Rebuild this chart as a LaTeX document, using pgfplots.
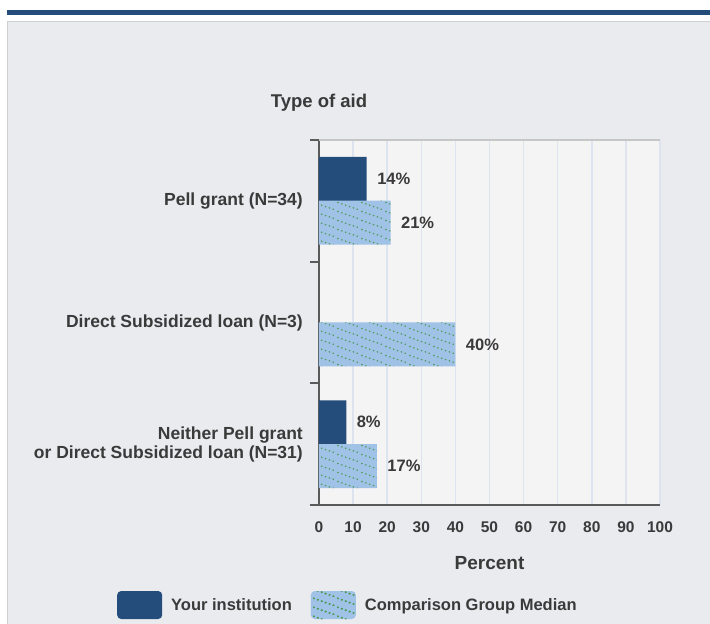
\documentclass[border=0pt]{standalone}
\usepackage{pgfplots}
\pgfplotsset{compat=1.18}
\usepackage{fontspec}
\setmainfont{Liberation Sans}
\usetikzlibrary{patterns}
\definecolor{topblue}{HTML}{244D7B}
\definecolor{darkblue}{HTML}{244D7B}
\definecolor{compfill}{HTML}{A0C2E6}
\definecolor{dotgreen}{HTML}{4E9A58}
\definecolor{panel}{HTML}{EAEBEF}
\definecolor{panelborder}{HTML}{CFD0D4}
\definecolor{plotbg}{HTML}{F4F4F4}
\definecolor{gridc}{HTML}{DDE4EF}
\definecolor{axisgray}{HTML}{5A5A5A}
\definecolor{txt}{HTML}{3A3A3A}
\pgfdeclarepatternformonly{dotdiag}{\pgfqpoint{0pt}{0pt}}{\pgfqpoint{24pt}{9pt}}{\pgfqpoint{24pt}{9pt}}{%
  \foreach \i in {0,...,5}{%
    \pgfpathcircle{\pgfpoint{2pt+4pt*\i}{8.25pt-1.5pt*\i}}{0.95pt}%
  }%
  \pgfusepath{fill}%
}
\newcommand{\fs}[1]{\fontsize{#1}{1.1\dimexpr#1pt\relax}\selectfont\bfseries}
\begin{document}
\begin{tikzpicture}
\useasboundingbox (-319pt,-119pt) rectangle (391pt,505pt);
\fill[white] (-319pt,-119pt) rectangle (391pt,505pt);
\fill[topblue] (-312pt,495pt) rectangle (391pt,490pt);
\fill[panel] (-311.5pt,483pt) rectangle (391pt,-119pt);
\draw[panelborder, line width=1pt] (-311.5pt,-119pt) -- (-311.5pt,483pt) -- (391pt,483pt);
\begin{axis}[
  at={(0pt,0pt)}, anchor=south west,
  scale only axis, width=341pt, height=365pt,
  xbar,
  xmin=0, xmax=100, ymin=-0.5, ymax=2.5,
  xtick={0,10,...,100},
  ytick={0,1,2},
  yticklabels={{Neither Pell grant\\or Direct Subsidized loan (N=31)},{Direct Subsidized loan (N=3)},{Pell grant (N=34)}},
  minor ytick={-0.5,0.5,1.5,2.5},
  major tick length=0pt, minor tick length=9pt, tick align=outside,
  minor tick style={axisgray, line width=2pt},
  xmajorgrids, major x grid style={gridc, line width=1.5pt},
  axis x line*=bottom, axis y line*=left,
  axis line style={-, axisgray, line width=2pt},
  axis background/.style={fill=plotbg},
  /pgf/number format/assume math mode=true,
  xticklabel style={font=\fs{15.5}, text=txt, anchor=center, yshift=-22pt},
  yticklabel style={font=\fs{17.5}, text=txt, anchor=east, align=right, inner sep=0pt, xshift=-16pt},
  title={Type of aid},
  title style={at={(axis description cs:0,1)}, anchor=center, yshift=31pt, font=\fs{18.5}, text=txt},
  xlabel={Percent},
  xlabel style={at={(axis description cs:0.5,0)}, anchor=center, yshift=-58pt, font=\fs{19}, text=txt},
  point meta=x,
  nodes near coords={\pgfmathprintnumber{\pgfplotspointmeta}\%},
  nodes near coords style={anchor=west, font=\fs{16.5}, text=txt, xshift=7pt},
  legend columns=2,
  legend style={at={(axis description cs:-0.5924,-0.274)}, anchor=west, draw=none, fill=none, inner sep=0pt,
    font=\fs{16.5}, text=txt,
    /tikz/every even column/.append style={column sep=17pt},
    /tikz/every odd column/.append style={column sep=7pt}},
  extra description/.code={\draw[gray!45, line width=1.5pt] (axis description cs:0,1) -- (axis description cs:1,1);},
]
\addplot[bar width=0.3616, bar shift=0.18, fill=darkblue, draw=none,
  legend image code/.code={\fill[darkblue, rounded corners=4pt] (0pt,-14pt) rectangle (45pt,14pt);}]
  coordinates {(14,2) (8,0)};
\addlegendentry{Your institution}
\addplot[bar width=0.3616, bar shift=-0.18, fill=compfill, draw=none,
  postaction={pattern=dotdiag, pattern color=dotgreen},
  legend image code/.code={\fill[compfill, rounded corners=4pt] (0pt,-14pt) rectangle (45pt,14pt);
    \fill[pattern=dotdiag, pattern color=dotgreen, rounded corners=4pt] (0pt,-14pt) rectangle (45pt,14pt);}]
  coordinates {(21,2) (40,1) (17,0)};
\addlegendentry{Comparison Group Median}
\end{axis}
\end{tikzpicture}
\end{document}
